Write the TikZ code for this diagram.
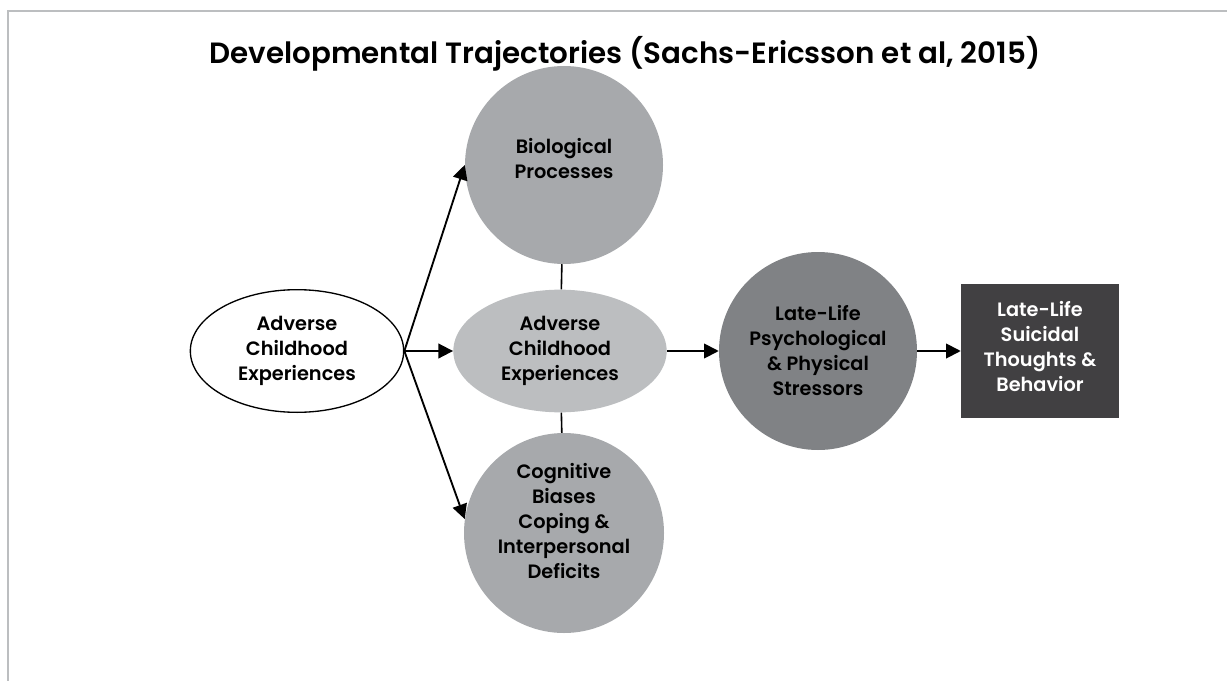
\documentclass[tikz,border=0pt]{standalone}
\usepackage{fontspec}
\setmainfont{Poppins}[BoldFont={* SemiBold}]
\usetikzlibrary{arrows.meta,shapes.geometric}
\definecolor{framegray}{HTML}{BCBEC0}
\definecolor{midgray}{HTML}{A7A9AC}
\definecolor{lightgray}{HTML}{BCBEC0}
\definecolor{stressgray}{HTML}{808285}
\definecolor{boxgray}{HTML}{414042}
\begin{document}
\begin{tikzpicture}[x=0.75pt,y=-0.75pt]
\tikzset{edge/.style = {line width=1.4pt, -{Triangle[length=11pt,width=11pt]}}}
\tikzset{link/.style = {line width=1.2pt}}
\tikzset{txt/.style = {align=center, inner sep=0pt, font=\fontsize{14.5}{18.75}\selectfont\bfseries}}
\tikzset{blob/.style = {txt, shape=circle, minimum size=148.5pt}}
\tikzset{oval/.style = {txt, shape=ellipse, minimum width=160pt, minimum height=92pt}}
\useasboundingbox (0,0) rectangle (1227,681);
\draw[framegray, line width=1.3pt] (8,681) -- (8,11) -- (1227,11);
\node[font=\fontsize{22}{26}\selectfont\bfseries](title) at (625,54) {Developmental Trajectories (Sachs-Ericsson et al, 2015)};
\node[oval, draw, line width=1pt, fill=white](ace) at (297,351) {Adverse\\Childhood\\Experiences};
\node[blob, fill=midgray](bio) at (564,165) {Biological\\Processes\\[-9pt]};
\node[oval, fill=lightgray](mid) at (560,351) {Adverse\\Childhood\\Experiences};
\node[blob, fill=midgray, minimum size=150pt](cog) at (564,533) {Cognitive\\Biases\\Coping \&\\Interpersonal\\Deficits\\[-1pt]};
\node[blob, fill=stressgray](late) at (818,351) {Late-Life\\Psychological\\\& Physical\\Stressors};
\node[txt, shape=rectangle, fill=boxgray, text=white, minimum width=118.5pt, minimum height=100pt](box) at (1040,351) {Late-Life\\Suicidal\\Thoughts \&\\Behavior\\[-12pt]};
\draw[edge] (ace.east) to (bio.west);
\draw[edge] (ace.east) to (mid.west);
\draw[edge] (ace.east) to (cog.172);
\draw[link] (bio) to (mid);
\draw[link] (mid) to (cog);
\draw[edge] (mid.east) to (late.west);
\draw[edge] (late.east) to (box.west);
\end{tikzpicture}
\end{document}
